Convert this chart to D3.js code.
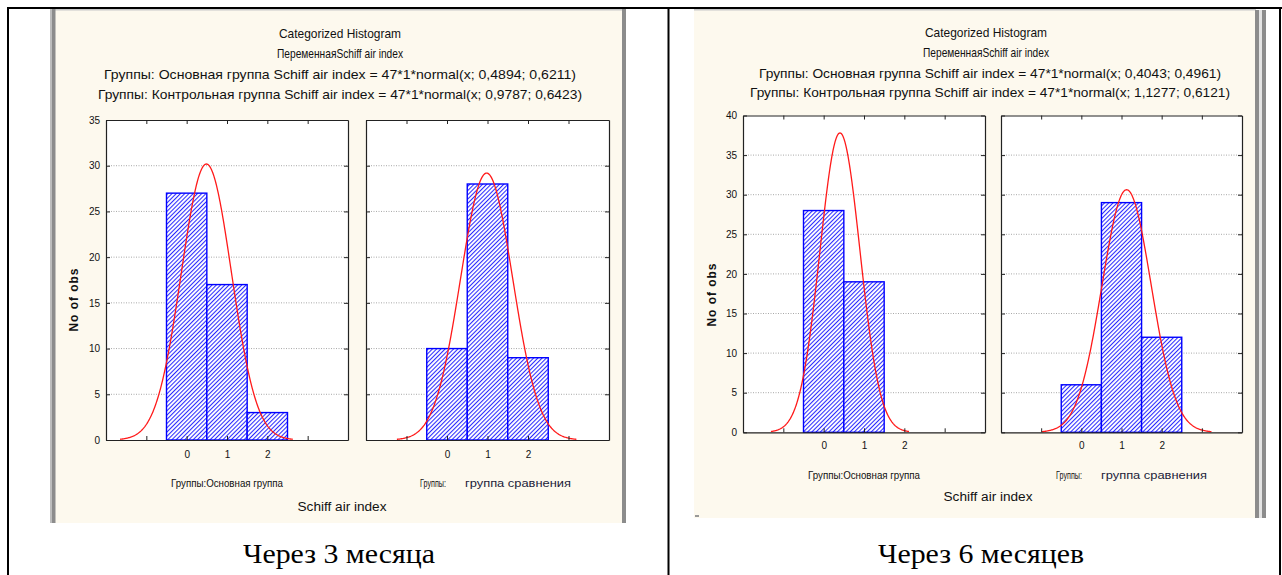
<!DOCTYPE html>
<html>
<head>
<meta charset="utf-8">
<script src="https://cdn.jsdelivr.net/npm/d3@7"></script>
<style>
  body { margin: 0; background: #fff; }
  svg { display: block; }
  text { fill: #111; }
</style>
</head>
<body>
<svg id="chart" width="1282" height="575"></svg>
<script>
// Histogram bins (Schiff air index scores)
const bins = [0, 1, 2];
// Counts per bin, 3 months
const main3 = [27, 17, 3];
const ctrl3 = [10, 28, 9];
// Counts per bin, 6 months
const main6 = [28, 19, 0];
const ctrl6 = [6, 29, 12];
// Fitted normal curves: N * binWidth * normal(x; mean; sd)
const nObs = 47;
const binWidth = 1;
const fitMean3 = [0.4894, 0.9787];
const fitSd3 = [0.6211, 0.6423];
const fitMean6 = [0.4043, 1.1277];
const fitSd6 = [0.4961, 0.6121];
// Axes
const xDomain = [-2, 4];
const xTickMarks = [-1, 0, 1, 2, 3];
const xTickLabels = [0, 1, 2];
const yTicks3 = [0, 5, 10, 15, 20, 25, 30, 35];
const yTicks6 = [0, 5, 10, 15, 20, 25, 30, 35, 40];
// Texts
const chartTitle = "Categorized Histogram";
const variableLine = "ПеременнаяSchiff air index";
const groupNames = ["Основная группа", "Контрольная группа"];
const groupAxisLabels = ["Группы:Основная группа", "группа сравнения"];
const xAxisTitle = "Schiff air index";
const yAxisTitle = "No of obs";
const captions = ["Через 3 месяца", "Через 6 месяцев"];

const SANS = "'Liberation Sans', Arial, sans-serif";
const SERIF = "'Liberation Serif', 'Times New Roman', serif";

const svg = d3.select("#chart");
const comma = v => v.toFixed(4).replace(".", ",");

// Hatched fill for the bars
const defs = svg.append("defs");
const pat = defs.append("pattern")
  .attr("id", "hatch").attr("patternUnits", "userSpaceOnUse")
  .attr("width", 3).attr("height", 3)
  .attr("patternTransform", "rotate(45)");
pat.append("rect").attr("width", 3).attr("height", 3).attr("fill", "#fff");
pat.append("line").attr("x1", 0.5).attr("y1", 0).attr("x2", 0.5).attr("y2", 3)
  .attr("stroke", "#2a2aff").attr("stroke-width", 1.1);

// Table lines around the two cells
svg.append("rect").attr("x", 0).attr("y", 0).attr("width", 1282).attr("height", 575).attr("fill", "#fff");
svg.append("rect").attr("x", 7).attr("y", 7).attr("width", 1275).attr("height", 2).attr("fill", "#000");
svg.append("rect").attr("x", 7).attr("y", 7).attr("width", 2).attr("height", 568).attr("fill", "#000");
svg.append("rect").attr("x", 667.5).attr("y", 7).attr("width", 2).attr("height", 568).attr("fill", "#000");
svg.append("rect").attr("x", 1279).attr("y", 7).attr("width", 2).attr("height", 568).attr("fill", "#000");

function drawPlot(g, x0, x1, top, bottom, yMax, yTicks, counts, mean, sd, showYLabels, labelPad) {
  const x = d3.scaleLinear().domain(xDomain).range([x0, x1]);
  const y = d3.scaleLinear().domain([0, yMax]).range([bottom, top]);

  g.append("rect").attr("x", x0).attr("y", top)
    .attr("width", x1 - x0).attr("height", bottom - top).attr("fill", "#fff");

  // dotted grid
  g.append("g").selectAll("line")
    .data(yTicks.filter(t => t > 0 && t < yMax))
    .join("line")
    .attr("x1", x0).attr("x2", x1)
    .attr("y1", d => y(d)).attr("y2", d => y(d))
    .attr("stroke", "#a8a8a8").attr("stroke-width", 1)
    .attr("stroke-dasharray", "1,1.5");

  // bars
  g.append("g").selectAll("rect")
    .data(bins.map((b, i) => ({ b, c: counts[i] })).filter(d => d.c > 0))
    .join("rect")
    .attr("x", d => x(d.b - binWidth / 2))
    .attr("width", d => x(d.b + binWidth / 2) - x(d.b - binWidth / 2))
    .attr("y", d => y(d.c))
    .attr("height", d => y(0) - y(d.c))
    .attr("fill", "url(#hatch)")
    .attr("stroke", "#0000ff").attr("stroke-width", 1.4);

  // fitted normal curve
  const pdf = v => nObs * binWidth * Math.exp(-0.5 * ((v - mean) / sd) ** 2) / (sd * Math.sqrt(2 * Math.PI));
  const xs = d3.range(mean - 3.45 * sd, mean + 3.45 * sd + 1e-9, sd / 40);
  g.append("path")
    .datum(xs)
    .attr("fill", "none").attr("stroke", "#ff1a1a").attr("stroke-width", 1.3)
    .attr("d", d3.line().x(v => x(v)).y(v => y(pdf(v))));

  // frame and inward ticks
  const axL = d3.axisLeft(y).tickValues(yTicks).tickSizeInner(-4).tickSizeOuter(0).tickPadding(6)
    .tickFormat(showYLabels ? d3.format("d") : () => "");
  const axR = d3.axisRight(y).tickValues(yTicks).tickSizeInner(-4).tickSizeOuter(0).tickFormat(() => "");
  const axT = d3.axisTop(x).tickValues(xTickMarks).tickSizeInner(-4).tickSizeOuter(0).tickFormat(() => "");
  const axB = d3.axisBottom(x).tickValues(xTickMarks).tickSizeInner(-4).tickSizeOuter(0).tickPadding(labelPad)
    .tickFormat(d => xTickLabels.includes(d) ? d3.format("d")(d) : "");

  const style = sel => {
    sel.selectAll("path").attr("stroke", "#222").attr("stroke-width", 1.2);
    sel.selectAll("line").attr("stroke", "#222");
    sel.selectAll("text").style("font-size", "10px").style("font-family", SANS).style("fill", "#111");
  };
  g.append("g").attr("transform", `translate(${x0},0)`).call(axL).call(style);
  g.append("g").attr("transform", `translate(${x1},0)`).call(axR).call(style);
  g.append("g").attr("transform", `translate(0,${top})`).call(axT).call(style);
  g.append("g").attr("transform", `translate(0,${bottom})`).call(axB).call(style);
}

function centered(g, txt, cx, cy, size, width) {
  const t = g.append("text").attr("x", cx).attr("y", cy).attr("dy", "0.35em")
    .attr("text-anchor", "middle").style("font-family", SANS).style("font-size", size + "px").text(txt);
  if (width) t.attr("textLength", width).attr("lengthAdjust", "spacingAndGlyphs");
  return t;
}
function leftText(g, txt, x0, cy, size, width, color) {
  const t = g.append("text").attr("x", x0).attr("y", cy).attr("dy", "0.35em")
    .style("font-family", SANS).style("font-size", size + "px").text(txt);
  if (width) t.attr("textLength", width).attr("lengthAdjust", "spacingAndGlyphs");
  if (color) t.style("fill", color);
  return t;
}

function drawPanel(p) {
  const g = svg.append("g");
  // cream window background with grey frame
  g.append("rect").attr("x", p.bgX0).attr("y", 9).attr("width", p.bgX1 - p.bgX0)
    .attr("height", p.bgY1 - 9).attr("fill", "#fdf9ee");
  g.append("rect").attr("x", p.bgX0).attr("y", 9).attr("width", p.bgX1 - p.bgX0)
    .attr("height", 1.5).attr("fill", "#c8c8c8");
  p.frame(g);

  centered(g, chartTitle, p.titleCx, p.ty[0], 13, 122);
  centered(g, variableLine, p.titleCx, p.ty[1], 13, 126);
  groupNames.forEach((name, i) => {
    const txt = `Группы: ${name} Schiff air index = ${nObs}*${binWidth}*normal(x; ${comma(p.means[i])}; ${comma(p.sds[i])})`;
    centered(g, txt, p.lineCx, p.ty[2 + i], 13, p.lineW[i]);
  });

  drawPlot(g, p.plots[0][0], p.plots[0][1], p.top, p.bottom, p.yMax, p.yTicks, p.counts[0], p.means[0], p.sds[0], true, p.labelPad);
  drawPlot(g, p.plots[1][0], p.plots[1][1], p.top, p.bottom, p.yMax, p.yTicks, p.counts[1], p.means[1], p.sds[1], false, p.labelPad);

  g.append("text").attr("transform", `translate(${p.yLab[0]},${p.yLab[1]}) rotate(-90)`)
    .attr("text-anchor", "middle").attr("dy", "0.35em")
    .style("font-family", SANS).style("font-size", "12px").style("font-weight", "600")
    .attr("textLength", 63).attr("lengthAdjust", "spacing").text(yAxisTitle);

  centered(g, groupAxisLabels[0], p.grp[0], p.grpY, 10, 112);
  leftText(g, "Группы:", p.grp[1], p.grpY, 11, 26);
  leftText(g, groupAxisLabels[1], p.grp[2], p.grpY, 11, 106, "#1c1c3a");
  centered(g, xAxisTitle, p.titleCx + 2, p.axY, 12, 89);
  p.extra(g);

  svg.append("text").attr("x", p.capCx).attr("y", 553).attr("dy", "0.35em")
    .attr("text-anchor", "middle")
    .style("font-family", SERIF).style("font-size", "28px").style("fill", "#000")
    .attr("textLength", p.capW).attr("lengthAdjust", "spacingAndGlyphs")
    .text(p.caption);
}

// 3 months
drawPanel({
  bgX0: 50, bgX1: 626, bgY1: 523,
  frame: g => {
    g.append("rect").attr("x", 50).attr("y", 9).attr("width", 2).attr("height", 514).attr("fill", "#bdbdbd");
    g.append("rect").attr("x", 52).attr("y", 9).attr("width", 3.5).attr("height", 514).attr("fill", "#8c8c8c");
    g.append("rect").attr("x", 622).attr("y", 9).attr("width", 4).attr("height", 514).attr("fill", "#8c8c8c");
  },
  extra: () => {},
  titleCx: 340, lineCx: 340, ty: [33, 53, 74, 94], lineW: [472, 484],
  means: fitMean3, sds: fitSd3, counts: [main3, ctrl3],
  plots: [[106, 348], [366, 609]], top: 120, bottom: 440, yMax: 35, yTicks: yTicks3, labelPad: 11,
  yLab: [74, 300],
  grp: [227, 420, 465], grpY: 483, axY: 507,
  capCx: 339, capW: 192, caption: captions[0]
});

// 6 months
drawPanel({
  bgX0: 694, bgX1: 1256, bgY1: 518,
  frame: g => {
    g.append("rect").attr("x", 1255).attr("y", 10).attr("width", 4).attr("height", 508).attr("fill", "#8c8c8c");
    g.append("rect").attr("x", 1259).attr("y", 10).attr("width", 3).attr("height", 508).attr("fill", "#e4e4e4");
    g.append("rect").attr("x", 1262).attr("y", 10).attr("width", 4).attr("height", 508).attr("fill", "#8c8c8c");
  },
  extra: g => {
    g.append("rect").attr("x", 695).attr("y", 515).attr("width", 4).attr("height", 2).attr("fill", "#999");
  },
  titleCx: 986, lineCx: 990, ty: [32, 52, 73, 92], lineW: [462, 480],
  means: fitMean6, sds: fitSd6, counts: [main6, ctrl6],
  plots: [[743, 985], [1001, 1242]], top: 115.5, bottom: 432.3, yMax: 40, yTicks: yTicks6, labelPad: 10,
  yLab: [712, 295],
  grp: [864, 1056, 1101], grpY: 475, axY: 497,
  capCx: 981, capW: 206, caption: captions[1]
});
</script>
</body>
</html>
